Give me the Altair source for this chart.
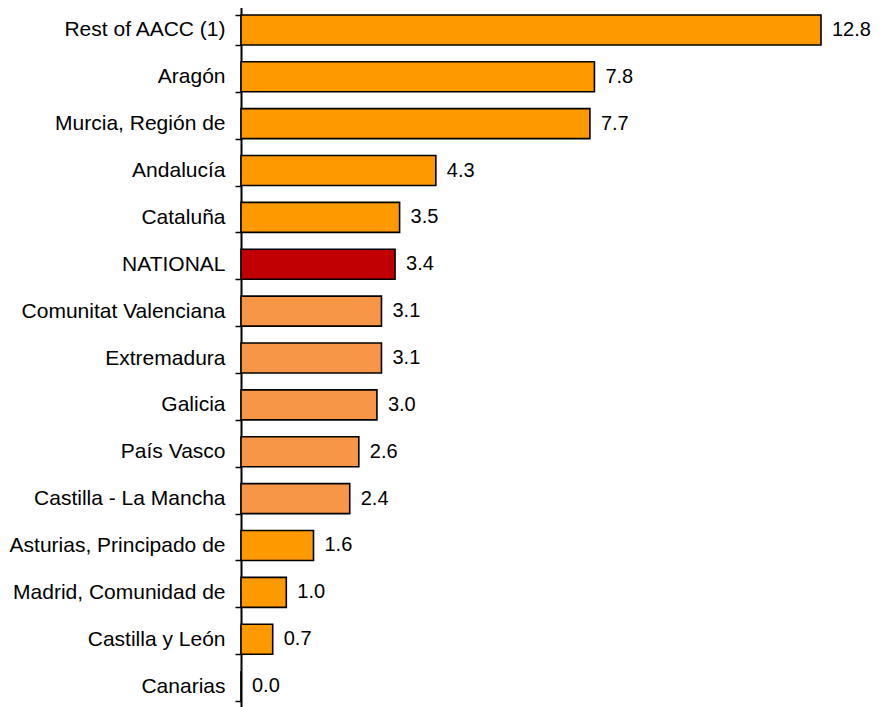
import altair as alt
import pandas as pd

regions = [
    "Rest of AACC (1)", "Aragón", "Murcia, Región de", "Andalucía", "Cataluña",
    "NATIONAL", "Comunitat Valenciana", "Extremadura", "Galicia", "País Vasco",
    "Castilla - La Mancha", "Asturias, Principado de", "Madrid, Comunidad de",
    "Castilla y León", "Canarias",
]
values = [12.8, 7.8, 7.7, 4.3, 3.5, 3.4, 3.1, 3.1, 3.0, 2.6, 2.4, 1.6, 1.0, 0.7, 0.0]
groups = ["a", "a", "a", "a", "a", "n", "b", "b", "b", "b", "b", "a", "a", "a", "a"]

group_domain = ["a", "b", "n"]
group_colors = ["#FF9900", "#F79646", "#C00000"]

df = pd.DataFrame({"region": regions, "value": values, "group": groups})
df["label"] = df["value"].map(lambda v: f"{v:.1f}")

y = alt.Y(
    "region:N", sort=regions, title=None,
    scale=alt.Scale(paddingInner=0.36, paddingOuter=0.18, range=[-1.5, 701.5]),
    axis=alt.Axis(
        domainColor="black", domainWidth=2, tickColor="black", tickWidth=1.5,
        tickSize=6, tickBand="extent", labelPadding=10, labelFontSize=21,
        labelFont="Liberation Sans", labelColor="black", labelLimit=400,
    ),
)
x = alt.X("value:Q", title=None, scale=alt.Scale(domain=[0, 12.8], nice=False, zero=True), axis=None)

bars = alt.Chart(df).mark_bar(stroke="black", strokeWidth=1.6).encode(
    y=y, x=x,
    color=alt.Color("group:N", scale=alt.Scale(domain=group_domain, range=group_colors), legend=None),
)
text = alt.Chart(df).mark_text(align="left", dx=11, fontSize=20, font="Liberation Sans", color="black").encode(
    y=alt.Y("region:N", sort=regions), x="value:Q", text="label:N",
)

chart = alt.layer(bars, text).properties(
    width=580, height=699,
    autosize=alt.AutoSizeParams(type="none"),
    padding={"left": 233, "top": 0, "right": 52, "bottom": 0},
).configure(background="white", view=alt.ViewConfig(strokeWidth=0))

chart.save("out.html", embed_options={"renderer": "svg", "actions": False})
